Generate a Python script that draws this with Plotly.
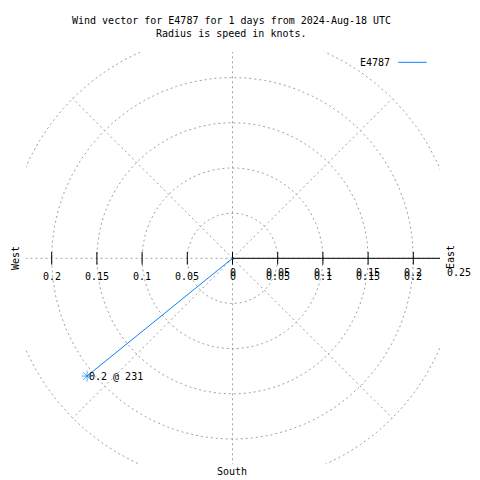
import numpy as np
import plotly.graph_objects as go

# ---- data ----
station = "E4787"
speed = [0.207]          # knots
direction = [231]        # degrees, compass
ring_values = [0.05, 0.1, 0.15, 0.2, 0.25]
xtick_values = [-0.2, -0.15, -0.1, -0.05, 0, 0.05, 0.1, 0.15, 0.2]
rtick_values = [0, 0.05, 0.1, 0.15, 0.2, 0.25]
spoke_angles = [0, 45, 90, 135, 180, 225, 270, 315]
title_lines = ["Wind vector for E4787 for 1 days from 2024-Aug-18 UTC",
               "Radius is speed in knots."]

# ---- layout geometry (pixels) ----
W = H = 480
L, R, T, B = 26, 440, 52, 464
CX, CY = 232.5, 258.3
S = 904.0
xr = [(L - CX) / S, (R - CX) / S]
yr = [(CY - B) / S, (CY - T) / S]


def paper(x, y):
    return (x - L) / (R - L), (B - y) / (B - T)


def data_to_paper_x(v):
    return (v - xr[0]) / (xr[1] - xr[0])


def data_to_paper_y(v):
    return (v - yr[0]) / (yr[1] - yr[0])


FONT = "DejaVu Sans Mono"
GRID = "#a0a0a0"
BLUE = "#0a80ff"

fig = go.Figure()

# grid circles
t = np.linspace(0, 2 * np.pi, 721)
gx, gy = [], []
for r in ring_values:
    gx += list(r * np.cos(t)) + [None]
    gy += list(r * np.sin(t)) + [None]
rmax = max(ring_values)
for a in spoke_angles:
    gx += [0, rmax * np.cos(np.radians(a)), None]
    gy += [0, rmax * np.sin(np.radians(a)), None]
fig.add_trace(go.Scatter(x=gx, y=gy, mode="lines",
                         line=dict(color=GRID, width=1, dash="2px,3px"),
                         hoverinfo="skip", showlegend=False))

# east radial axis (black)
fig.add_trace(go.Scatter(x=[0, rmax], y=[0, 0], mode="lines",
                         line=dict(color="black", width=1),
                         hoverinfo="skip", showlegend=False))

# tick marks
tick_x = sorted(set(xtick_values) | set(rtick_values))
fig.add_trace(go.Scatter(x=tick_x, y=[0] * len(tick_x), mode="markers",
                         marker=dict(symbol="line-ns", size=9,
                                     line=dict(color="black", width=1)),
                         cliponaxis=False, hoverinfo="skip", showlegend=False))

# wind vector
theta = np.radians(direction)
vx = [0] + list(np.array(speed) * np.sin(theta))
vy = [0] + list(np.array(speed) * np.cos(theta))
fig.add_trace(go.Scatter(x=vx, y=vy, mode="lines+markers",
                         line=dict(color=BLUE, width=1),
                         marker=dict(symbol="asterisk-open", size=[0, 9],
                                     color=BLUE, line=dict(color=BLUE, width=1)),
                         cliponaxis=False, hoverinfo="skip", showlegend=False))

annotations = []
font = dict(family=FONT, size=10, color="black")

# vector label
annotations.append(dict(x=vx[-1], y=vy[-1], xref="x", yref="y",
                        text=f"{speed[0]:.1f} @ {direction[0]:.0f}",
                        showarrow=False, xanchor="left", yanchor="middle",
                        xshift=0, font=font))

# x tic labels
for v in xtick_values:
    annotations.append(dict(x=v, y=0, xref="x", yref="y", text=f"{abs(v):g}",
                            showarrow=False, xanchor="center", yanchor="middle",
                            yshift=-18, font=font))
# r tic labels (paper refs so the outermost one, beyond the x range, still shows)
for v in rtick_values:
    annotations.append(dict(x=data_to_paper_x(v), y=data_to_paper_y(0),
                            xref="paper", yref="paper", text=f"{v:g}",
                            showarrow=False, xanchor="center", yanchor="middle",
                            yshift=-14, font=font))

# titles
for i, line in enumerate(title_lines):
    px_, py_ = paper(231.4, 20 + 13.3 * i)
    annotations.append(dict(x=px_, y=py_, xref="paper", yref="paper", text=line,
                            showarrow=False, xanchor="center", yanchor="middle",
                            font=font))

# direction labels
for txt, xx, yy, ang in [("West", 15, 258, -90), ("East", 450, 257, -90),
                         ("South", 231.7, 471, 0)]:
    px_, py_ = paper(xx, yy)
    annotations.append(dict(x=px_, y=py_, xref="paper", yref="paper", text=txt,
                            showarrow=False, xanchor="center", yanchor="middle",
                            textangle=ang, font=font))

# legend
px_, py_ = paper(392, 62)
annotations.append(dict(x=px_, y=py_, xref="paper", yref="paper", text=station,
                        showarrow=False, xanchor="right", yanchor="middle",
                        font=font))
lx0, ly = paper(398.3, 62.3)
lx1, _ = paper(426.7, 62.3)
shapes = [dict(type="line", xref="paper", yref="paper", x0=lx0, x1=lx1,
               y0=ly, y1=ly, line=dict(color=BLUE, width=1))]

fig.update_layout(
    width=W, height=H,
    margin=dict(l=L, r=W - R, t=T, b=H - B, pad=0),
    paper_bgcolor="white", plot_bgcolor="white",
    xaxis=dict(range=xr, showgrid=False, zeroline=False, showticklabels=False,
               showline=False, ticks=""),
    yaxis=dict(range=yr, showgrid=False, zeroline=False, showticklabels=False,
               showline=False, ticks=""),
    annotations=annotations, shapes=shapes,
    showlegend=False, hovermode=False,
    font=font,
)

fig.write_html("out.html", config=dict(displayModeBar=False),
               post_script="document.body.style.margin='0';"
                           "document.body.style.overflow='hidden';")
